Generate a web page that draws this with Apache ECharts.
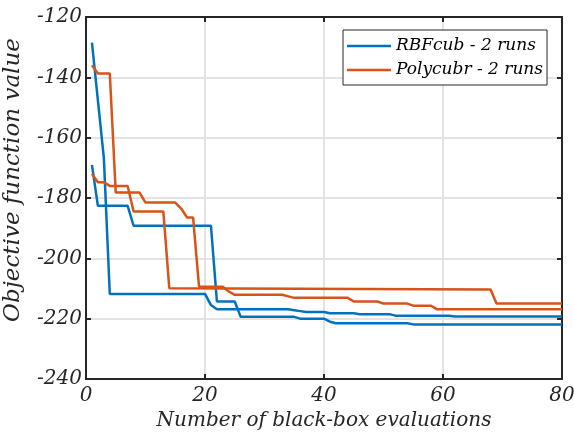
<!DOCTYPE html>
<html>
<head>
<meta charset="utf-8">
<script src="https://cdn.jsdelivr.net/npm/echarts@6/dist/echarts.min.js"></script>
<style>
  html, body { margin: 0; padding: 0; background: #fff; }
  #chart { width: 574px; height: 444px; }
</style>
</head>
<body>
<div id="chart"></div>
<script>
// Best objective value found so far, as [evaluation, value] breakpoints.
const rbfRun1 = [[1,-128.5],[2,-147.6],[3,-166.7],[4,-211.8],[20,-211.8],[21,-215.5],[22,-216.9],
  [34,-216.9],[35,-217.2],[36,-217.5],[37,-217.8],[40,-217.8],[41,-218.2],[45,-218.2],
  [46,-218.5],[51,-218.5],[52,-219.0],[61,-219.0],[62,-219.3],[80,-219.3]];
const rbfRun2 = [[1,-169.0],[2,-182.6],[7,-182.6],[8,-189.2],[21,-189.2],[22,-214.3],[25,-214.3],
  [26,-219.4],[35,-219.4],[36,-220.0],[40,-220.0],[41,-221.0],[42,-221.5],[54,-221.5],
  [55,-221.9],[80,-221.9]];
const polyRun1 = [[1,-136.0],[2,-138.7],[4,-138.7],[5,-178.2],[9,-178.2],[10,-181.5],[15,-181.5],
  [16,-183.5],[17,-186.5],[18,-186.5],[19,-209.4],[23,-209.4],[24,-211.0],[25,-212.1],
  [33,-212.1],[34,-212.6],[35,-213.1],[44,-213.1],[45,-214.3],[49,-214.3],[50,-215.0],
  [54,-215.0],[55,-215.7],[58,-215.7],[59,-216.9],[80,-216.9]];
const polyRun2 = [[1,-172.0],[2,-174.8],[3,-174.8],[4,-176.0],[7,-176.0],[8,-184.5],[13,-184.5],
  [14,-209.9],[68,-210.3],[69,-215.0],[80,-215.0]];

const xTicks = { min: 0, max: 80, step: 20 };
const yTicks = { min: -240, max: -120, step: 20 };

const seriesNames = ['RBFcub - 2 runs', 'Polycubr - 2 runs'];
const colors = ['#0072BD', '#D95319'];

const serif = '"DejaVu Serif", "Liberation Serif", serif';
const frame = '#262626';

function run(name, color, data) {
  return {
    name: name, type: 'line', data: data, xAxisIndex: 0, yAxisIndex: 0,
    symbol: 'none', showSymbol: false, animation: false,
    lineStyle: { color: color, width: 2.5 }, itemStyle: { color: color }
  };
}

function axisBase(extra) {
  return Object.assign({
    type: 'value',
    axisLine: { show: true, onZero: false, lineStyle: { color: frame, width: 2 } },
    axisTick: { show: true, inside: true, length: 5, lineStyle: { color: frame, width: 2 } },
    splitLine: { show: false }
  }, extra);
}

const chart = echarts.init(document.getElementById('chart'), null, { renderer: 'canvas' });
chart.setOption({
  animation: false,
  backgroundColor: '#fff',
  grid: { left: 86, right: 12, top: 17, bottom: 65, containLabel: false, outerBoundsMode: 'none' },
  legend: {
    data: seriesNames,
    orient: 'vertical',
    left: 343, top: 30,
    padding: [6, 4, 5, 4],
    itemGap: 4,
    itemWidth: 44, itemHeight: 2.5,
    icon: 'rect',
    backgroundColor: '#fff',
    borderColor: frame, borderWidth: 1,
    textStyle: { fontFamily: serif, fontStyle: 'italic', fontSize: 17, color: '#000', lineHeight: 20 }
  },
  xAxis: [
    axisBase({
      min: xTicks.min, max: xTicks.max, interval: xTicks.step, position: 'bottom',
      name: 'Number of black-box evaluations', nameLocation: 'middle', nameGap: 22,
      nameTextStyle: { fontFamily: serif, fontStyle: 'italic', fontSize: 20, color: '#262626' },
      axisLabel: { fontFamily: serif, fontStyle: 'italic', fontSize: 20, color: '#262626', margin: 7 },
      splitLine: { show: true, lineStyle: { color: '#e3e3e3', width: 2 } }
    }),
    axisBase({
      min: xTicks.min, max: xTicks.max, interval: xTicks.step, position: 'top',
      axisLabel: { show: false }
    })
  ],
  yAxis: [
    axisBase({
      min: yTicks.min, max: yTicks.max, interval: yTicks.step, position: 'left',
      name: 'Objective function value', nameLocation: 'middle', nameGap: 61,
      nameTextStyle: { fontFamily: serif, fontStyle: 'italic', fontSize: 23, color: '#262626',
        padding: [0, 0, 0, 36] },
      axisLabel: { fontFamily: serif, fontStyle: 'italic', fontSize: 20, color: '#262626', margin: 4 },
      splitLine: { show: true, lineStyle: { color: '#e3e3e3', width: 2 } }
    }),
    axisBase({
      min: yTicks.min, max: yTicks.max, interval: yTicks.step, position: 'right',
      axisLabel: { show: false }
    })
  ],
  series: [
    run(seriesNames[0], colors[0], rbfRun1),
    run(seriesNames[0], colors[0], rbfRun2),
    run(seriesNames[1], colors[1], polyRun1),
    run(seriesNames[1], colors[1], polyRun2)
  ]
});
</script>
</body>
</html>
